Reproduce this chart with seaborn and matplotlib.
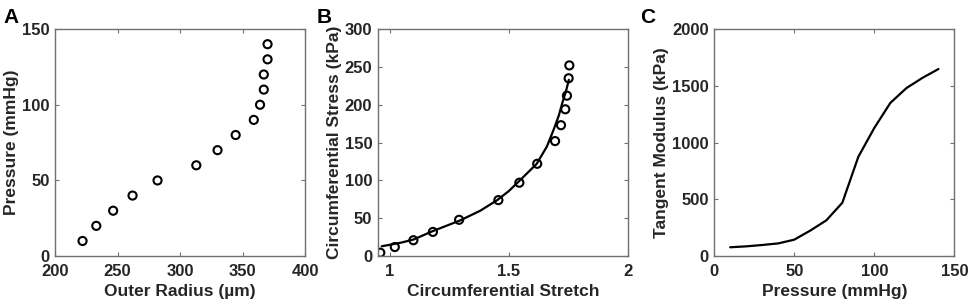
import numpy as np
import pandas as pd
import matplotlib
matplotlib.use('Agg')
import matplotlib.pyplot as plt
import seaborn as sns

# Panel A: pressure-diameter data
radius_um = [222, 233, 246.5, 262, 282, 313, 330, 344.5, 359, 364, 367, 367, 370, 370]
pressure_a = [10, 20, 30, 40, 50, 60, 70, 80, 90, 100, 110, 120, 130, 140]

# Panel B: stress-stretch data and fit
stretch_pts = [0.96, 1.021, 1.099, 1.181, 1.291, 1.456, 1.544, 1.619, 1.694, 1.719, 1.737, 1.744, 1.751, 1.754]
stress_pts = [4.5, 12, 21, 32, 48, 74, 97, 122, 152, 173, 194, 212, 235, 252]
stretch_fit = [0.966, 1.0, 1.05, 1.1, 1.18, 1.294, 1.38, 1.451, 1.5, 1.546, 1.617, 1.66, 1.688, 1.71, 1.724, 1.74, 1.752]
stress_fit = [13, 15, 18, 22, 33, 47, 60, 74, 86, 100, 122, 145, 167, 186, 202, 218, 233]

# Panel C: tangent modulus
pressure_c = [10, 20, 30, 40, 50, 60, 70, 80, 90, 100, 110, 120, 130, 140]
modulus_kpa = [78, 86, 98, 112, 145, 225, 315, 470, 875, 1130, 1350, 1480, 1570, 1648]

sns.set_style('ticks')
plt.rcParams['font.family'] = ['Liberation Sans', 'DejaVu Sans']
plt.rcParams['font.weight'] = 'bold'
plt.rcParams['axes.labelweight'] = 'bold'

text_col = '#262626'
spine_col = '#707070'

fig = plt.figure(figsize=(9.69, 3.06), dpi=100)
ax_a = fig.add_axes([0.0568, 0.163, 0.258, 0.742])
ax_b = fig.add_axes([0.390, 0.163, 0.258, 0.742])
ax_c = fig.add_axes([0.737, 0.163, 0.248, 0.742])

marker_kw = dict(marker='o', s=34, facecolor='none', edgecolor='black', linewidth=1.5)

sns.scatterplot(x=radius_um, y=pressure_a, ax=ax_a, **marker_kw)
ax_a.set_xlim(200, 400)
ax_a.set_ylim(0, 150)
ax_a.set_xticks([200, 250, 300, 350, 400])
ax_a.set_yticks([0, 50, 100, 150])
ax_a.set_xlabel('Outer Radius (µm)')
ax_a.set_ylabel('Pressure (mmHg)')

sns.lineplot(x=stretch_fit, y=stress_fit, ax=ax_b, color='black', linewidth=1.6, sort=False)
sns.scatterplot(x=stretch_pts, y=stress_pts, ax=ax_b, **marker_kw)
ax_b.set_xlim(0.95, 2)
ax_b.set_ylim(0, 300)
ax_b.set_xticks([1, 1.5, 2])
ax_b.set_xticklabels(['1', '1.5', '2'])
ax_b.set_yticks([0, 50, 100, 150, 200, 250, 300])
ax_b.set_xlabel('Circumferential Stretch')
ax_b.set_ylabel('Circumferential Stress (kPa)')

sns.lineplot(x=pressure_c, y=modulus_kpa, ax=ax_c, color='black', linewidth=1.6)
ax_c.set_xlim(0, 150)
ax_c.set_ylim(0, 2000)
ax_c.set_xticks([0, 50, 100, 150])
ax_c.set_yticks([0, 500, 1000, 1500, 2000])
ax_c.set_xlabel('Pressure (mmHg)')
ax_c.set_ylabel('Tangent Modulus (kPa)')

for ax in (ax_a, ax_b, ax_c):
    for sp in ax.spines.values():
        sp.set_visible(True)
        sp.set_color(spine_col)
        sp.set_linewidth(1.0)
    ax.tick_params(direction='in', top=True, right=True, length=3, width=0.8,
                   color=spine_col, labelsize=12, labelcolor=text_col)
    ax.tick_params(axis='x', pad=6)
    ax.tick_params(axis='y', pad=4)
    for lbl in ax.get_xticklabels() + ax.get_yticklabels():
        lbl.set_fontweight('bold')
    ax.xaxis.label.set_size(12.5)
    ax.yaxis.label.set_size(12.5)
    ax.xaxis.label.set_color(text_col)
    ax.yaxis.label.set_color(text_col)
    ax.xaxis.labelpad = 3
    ax.yaxis.labelpad = 2

for x, letter in [(0.004, 'A'), (0.327, 'B'), (0.661, 'C')]:
    fig.text(x, 0.975, letter, fontsize=15, fontweight='bold', va='top', ha='left', color='black')

fig.savefig('out.png', dpi=100)
